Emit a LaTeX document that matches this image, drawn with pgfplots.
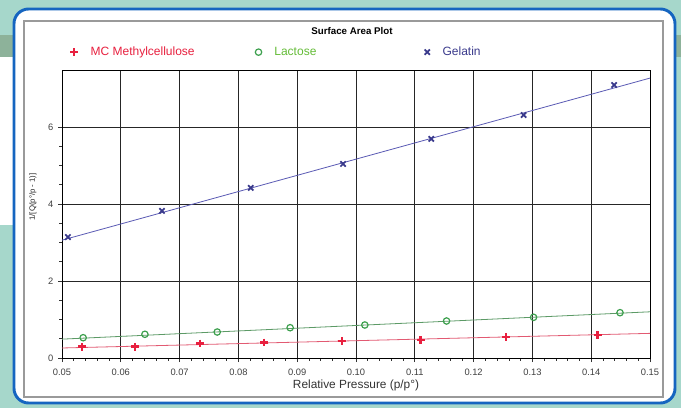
\documentclass[border=0pt]{standalone}
\usepackage{fontspec}
\setmainfont{Liberation Sans}
\usepackage{pgfplots}
\pgfplotsset{compat=1.18}
\definecolor{bg}{HTML}{A6D7CB}
\definecolor{band}{HTML}{8DB29A}
\definecolor{frameblue}{HTML}{1565C0}
\definecolor{chartgray}{HTML}{9A9A9A}
\definecolor{mred}{HTML}{E8203F}
\definecolor{lred}{HTML}{E25A72}
\definecolor{mgreen}{HTML}{3DA04E}
\definecolor{lgreen}{HTML}{5C9A66}
\definecolor{fgreen}{HTML}{9ED8A6}
\definecolor{mblue}{HTML}{3A3A8C}
\definecolor{lblue}{HTML}{5A5AB4}
\begin{document}
\begin{tikzpicture}
\useasboundingbox (0,0) rectangle (510.75pt,306pt);
\begin{scope}[shift={(0pt,306pt)},x=0.75pt,y=-0.75pt]
\fill[bg] (0,0) rectangle (681,408);
\fill[band] (0,35) rectangle (681,57);
\fill[white] (0,57) rectangle (14,225);
\fill[white, draw=frameblue, line width=2.2pt, rounded corners=11pt] (14,9) rectangle (675,403);
\draw[chartgray, line width=1.5pt] (24,21) rectangle (663,397);
\node[font=\bfseries\fontsize{7.3}{8}\selectfont] at (352,31) {Surface Area Plot};
\end{scope}
\begin{axis}[
  at={(46.5pt,37.5pt)}, anchor=south west, scale only axis,
  width=441pt, height=216pt,
  xmin=0.05, xmax=0.15, ymin=0, ymax=7.48,
  xtick={0.05,0.06,0.07,0.08,0.09,0.10,0.11,0.12,0.13,0.14,0.15},
  ytick={0,2,4,6},
  minor x tick num=4, minor y tick num=3,
  grid=major, major grid style={black!85, line width=0.6pt},
  axis line style={black, line width=0.6pt},
  tick align=outside, xtick pos=bottom, ytick pos=left,
  major tick length=3pt, minor tick length=2.2pt,
  tick style={black!80, line width=0.5pt},
  /pgf/number format/assume math mode=true,
  xticklabel style={font=\fontsize{7}{8}\selectfont, text=black!75, yshift=-2pt, /pgf/number format/.cd, fixed, fixed zerofill, precision=2},
  yticklabel style={font=\fontsize{7}{8}\selectfont, text=black!75},
  xlabel={Relative Pressure (p/p°)},
  ylabel={1/[Q(p°/p - 1)]},
  every axis x label/.style={at={(rel axis cs:0.5,0)}, yshift=-20.5pt, anchor=center, font=\fontsize{8.9}{10}\selectfont, text=black!80},
  every axis y label/.style={at={(rel axis cs:0,0.559)}, xshift=-21.75pt, rotate=90, anchor=center, font=\fontsize{5.8}{7}\selectfont, text=black!85},
  legend columns=3,
  legend style={at={(rel axis cs:0,1.062)}, xshift=6pt, anchor=west, draw=none, fill=none, inner sep=0pt,
    font=\fontsize{9}{10}\selectfont, /tikz/every even column/.append style={column sep=0pt}},
  legend cell align=left,
]
% fitted lines
\addplot[lred, line width=0.6pt, forget plot] coordinates {(0.05,0.26) (0.15,0.64)};
\addplot[lgreen, line width=0.6pt, forget plot] coordinates {(0.05,0.49) (0.15,1.20)};
\addplot[lblue, line width=0.6pt, forget plot] coordinates {(0.05,3.06) (0.15,7.27)};
% data points
\addplot[only marks, mark=+, mred, mark size=2.9pt, line width=1.8pt] coordinates {
(0.0534,0.294) (0.0624,0.294) (0.0735,0.380) (0.0844,0.400) (0.0976,0.440) (0.1110,0.470) (0.1255,0.540) (0.1411,0.600)};
\addplot[only marks, mark=o, mgreen, mark size=2.4pt, line width=0.9pt, mark options={fill=fgreen}] coordinates {
(0.0536,0.527) (0.0641,0.616) (0.0764,0.675) (0.0888,0.787) (0.1015,0.857) (0.1154,0.961) (0.1302,1.057) (0.1449,1.177)};
\addplot[only marks, mark=x, mblue, mark size=2.8pt, line width=1.3pt] coordinates {
(0.0510,3.14) (0.0670,3.82) (0.0821,4.42) (0.0978,5.04) (0.1128,5.69) (0.1285,6.31) (0.1439,7.09)};
\legend{\hspace{7.5pt}\makebox[121.5pt][l]{\textcolor{mred}{MC Methylcellulose}},\hspace{7.5pt}\makebox[110.7pt][l]{\textcolor{mgreen!70!lime}{Lactose}},\hspace{7.5pt}\textcolor{mblue}{Gelatin}}
\end{axis}
\end{tikzpicture}
\end{document}
